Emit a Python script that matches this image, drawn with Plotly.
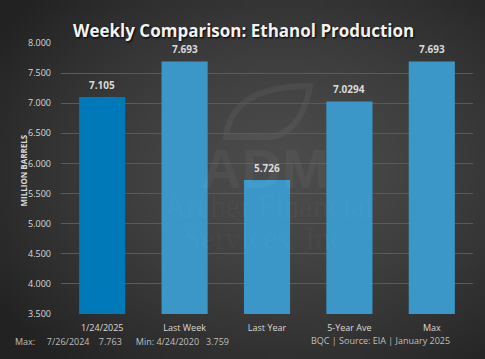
import base64, struct, zlib
import numpy as np
import plotly.graph_objects as go

categories = ["1/24/2025", "Last Week", "Last Year", "5-Year Ave", "Max"]
values = [7.105, 7.693, 5.726, 7.0294, 7.693]
labels = ["7.105", "7.693", "5.726", "7.0294", "7.693"]
bar_colors = ["#0079B8", "#3A97C8", "#3A97C8", "#3A97C8", "#3A97C8"]
y_ticks = [3.5, 4.0, 4.5, 5.0, 5.5, 6.0, 6.5, 7.0, 7.5, 8.0]

W, H = 485, 359
L, R, T, B = 61, 12, 43, 45
pw, ph = W - L - R, H - T - B


def gradient_png(w=122, h=90):
    yy, xx = np.mgrid[0:h, 0:w]
    cx, cy = 0.58 * w, 0.47 * h
    d = np.sqrt(((xx - cx) / (0.62 * w)) ** 2 + ((yy - cy) / (0.62 * h)) ** 2)
    d = np.clip(d, 0, 1.15)
    inner, outer = 76.0, 34.0
    v = inner + (outer - inner) * (d / 1.15) ** 1.4
    img = np.clip(v, 0, 255).astype(np.uint8)
    rgb = np.stack([img, img, img], axis=-1)
    raw = b"".join(b"\x00" + rgb[i].tobytes() for i in range(h))

    def chunk(tag, data):
        c = struct.pack(">I", len(data)) + tag + data
        return c + struct.pack(">I", zlib.crc32(tag + data) & 0xFFFFFFFF)

    png = b"\x89PNG\r\n\x1a\n" + chunk(b"IHDR", struct.pack(">IIBBBBB", w, h, 8, 2, 0, 0, 0))
    png += chunk(b"IDAT", zlib.compress(raw, 9)) + chunk(b"IEND", b"")
    return "data:image/png;base64," + base64.b64encode(png).decode()


fig = go.Figure()
fig.add_trace(go.Bar(
    x=categories, y=values, marker=dict(color=bar_colors, line=dict(width=0)),
    hoverinfo="skip",
))

FONT = "Open Sans"
label_col = "#D9D9D9"

for c, v, t in zip(categories, values, labels):
    fig.add_annotation(x=c, y=v, text=t, showarrow=False, yanchor="bottom", yshift=3,
                       font=dict(family=FONT, size=10, color=label_col, weight="bold"))


def px(x, y):
    return (x - L) / pw, 1 - (y - T) / ph


# watermark
wm = "rgba(255,255,255,0.045)"
fig.add_annotation(xref="paper", yref="paper", x=px(265, 0)[0], y=px(0, 168)[1],
                   text="ADM", showarrow=False, font=dict(family="Liberation Sans", size=56, color=wm, weight="bold"))
fig.add_annotation(xref="paper", yref="paper", x=px(268, 0)[0], y=px(0, 226)[1],
                   text="Archer Financial", showarrow=False, font=dict(family="Liberation Serif", size=31, color="rgba(255,255,255,0.03)"))
fig.add_annotation(xref="paper", yref="paper", x=px(264, 0)[0], y=px(0, 258)[1],
                   text="Services, Inc", showarrow=False, font=dict(family="Liberation Serif", size=31, color="rgba(255,255,255,0.03)"))

pts = [(226, 137), (310, 86), (268, 137)]
a, b, c2 = px(*pts[0]), px(*pts[1]), px(*pts[2])
c1a, c1b = px(230, 100), px(262, 86)
c2a, c2b = px(306, 112), px(292, 136)
leaf = (f"M{a[0]},{a[1]} C{c1a[0]},{c1a[1]} {c1b[0]},{c1b[1]} {b[0]},{b[1]} "
        f"C{c2a[0]},{c2a[1]} {c2b[0]},{c2b[1]} {c2[0]},{c2[1]} Z")
fig.add_shape(type="path", xref="paper", yref="paper", path=leaf,
              line=dict(color="rgba(255,255,255,0.05)", width=6), fillcolor="rgba(0,0,0,0)", layer="below")

# title
fig.add_annotation(xref="paper", yref="paper", x=px(243, 0)[0], y=px(0, 17)[1],
                   text="Weekly Comparison: Ethanol Production", showarrow=False,
                   font=dict(family=FONT, size=17, color="#F2F2F2", weight="bold", shadow="1px 1px 2px #000000"))
# y axis title
fig.add_annotation(xref="paper", yref="paper", x=px(15, 0)[0], y=px(0, 171)[1],
                   text="MILLION BARRELS", showarrow=False, textangle=-90,
                   font=dict(family=FONT, size=8, color=label_col, weight="bold"))
# footers
nb = "&nbsp;"
fig.add_annotation(xref="paper", yref="paper", x=px(13, 0)[0], y=px(0, 350)[1], xanchor="left",
                   text=f"Max:{nb*5}7/26/2024{nb*4}7.763{nb*6}Min: 4/24/2020{nb*3}3.759", showarrow=False,
                   font=dict(family=FONT, size=9, color="#BFBFBF"))
fig.add_annotation(xref="paper", yref="paper", x=px(452, 0)[0], y=px(0, 349)[1], xanchor="right",
                   text="BQC | Source: EIA | January 2025", showarrow=False,
                   font=dict(family=FONT, size=9, color="#BFBFBF"))

fig.add_layout_image(dict(source=gradient_png(), xref="paper", yref="paper",
                          x=-L / pw, y=1 + T / ph, sizex=W / pw, sizey=H / ph,
                          xanchor="left", yanchor="top", sizing="stretch", layer="below"))

fig.update_layout(
    width=W, height=H, margin=dict(l=L, r=R, t=T, b=B, autoexpand=False),
    paper_bgcolor="#3A3A3A", plot_bgcolor="rgba(0,0,0,0)",
    bargap=0.44, showlegend=False,
    xaxis=dict(showgrid=False, zeroline=False, showline=False, ticks="",
               ticklabelstandoff=7,
               tickfont=dict(family=FONT, size=9, color=label_col), fixedrange=True),
    yaxis=dict(range=[3.5, 8.0], tickvals=y_ticks, tickformat=".3f", showgrid=True,
               gridcolor="#5A5A5A", gridwidth=1, zeroline=False, showline=False, ticks="",
               ticklabelstandoff=9,
               tickfont=dict(family=FONT, size=9, color=label_col), fixedrange=True),
)

fig.write_html("out.html", config={"displayModeBar": False},
               post_script="document.body.style.margin='0';document.body.style.overflow='hidden';")
